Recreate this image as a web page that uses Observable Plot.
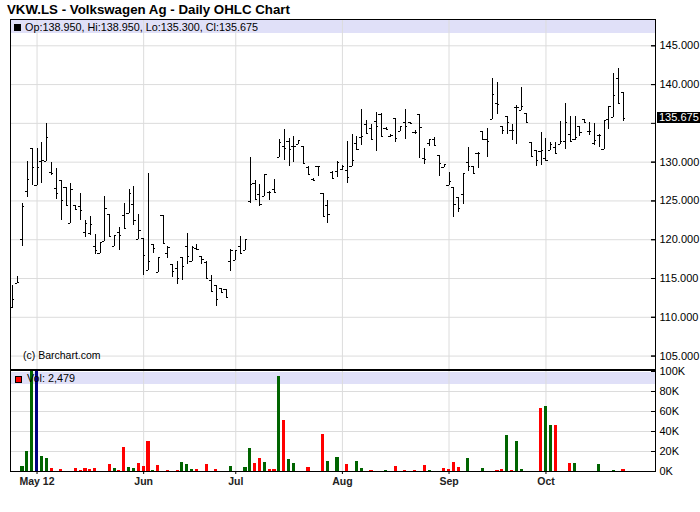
<!DOCTYPE html>
<html><head><meta charset="utf-8">
<script src="https://cdn.jsdelivr.net/npm/d3@7"></script>
<script src="https://cdn.jsdelivr.net/npm/@observablehq/plot@0.6"></script>
<style>
html,body{margin:0;padding:0;background:#fff;overflow:hidden;}
#wrap{position:relative;width:700px;height:512px;overflow:hidden;font-family:"Liberation Sans",Arial,sans-serif;background:#fff;}
#wrap svg{position:absolute;left:0;overflow:visible;}
.abs{position:absolute;white-space:nowrap;}
.band{position:absolute;background:#e0e0f8;}
.line{position:absolute;background:#000;}
</style></head><body>
<div id="wrap"></div>
<script>
// ---- data (bar index = trading day) ----
const opens = [111.3,114.38,120.0,126.25,131.7,127.0,130.1,130.07,128.65,126.6,
127.66,126.72,122.08,124.44,124.23,120.9,120.86,119.15,118.2,119.71,
123.28,119.07,120.9,123.15,123.4,124.57,120.0,120.14,115.97,119.4,
115.76,123.15,118.2,116.83,116.27,117.69,119.15,117.22,118.85,117.87,
117.0,114.77,114.13,113.7,113.57,117.22,117.27,119.15,118.55,124.96,
127.23,125.81,125.51,126.1,126.45,130.54,131.96,132.69,131.96,132.3,
132.05,129.3,127.8,129.4,125.94,124.35,128.7,128.8,129.04,128.95,
129.38,132.39,133.24,134.88,134.3,135.18,136.1,134.36,133.3,135.61,
133.98,135.13,135.05,133.8,136.17,130.5,132.39,132.95,130.89,129.3,
127.0,126.72,125.43,125.86,129.94,129.47,131.1,133.98,132.9,135.48,
137.55,134.54,135.83,134.1,137.1,136.6,136.26,132.52,131.44,131.36,
130.46,131.53,131.87,132.26,132.69,133.6,132.9,134.54,135.48,134.0,
132.39,133.46,131.62,135.48,135.74,140.77,138.95];
const highs = [114.13,115.2,124.65,130.1,131.75,131.75,132.5,134.97,129.94,129.17,
127.66,126.72,127.23,124.44,125.94,122.5,123.02,120.7,119.7,125.51,
123.28,120.57,121.52,124.65,126.5,126.8,123.28,120.14,128.52,119.4,
117.69,123.15,119.07,116.83,117.13,117.69,120.79,119.07,119.37,117.87,
117.13,115.33,114.13,113.7,113.57,118.72,118.64,120.44,120.05,130.63,
127.66,127.15,128.44,126.25,127.8,132.9,134.24,133.03,133.33,132.82,
132.05,129.38,127.88,129.42,125.94,125.0,128.74,130.11,129.6,132.69,
133.59,133.33,136.78,135.31,134.88,136.39,136.26,134.45,133.59,135.61,
134.62,136.78,135.1,134.07,136.17,131.74,132.95,133.16,130.89,129.68,
128.61,126.72,125.43,128.52,131.88,129.47,131.19,133.98,134.32,140.77,
140.25,134.54,135.83,134.88,137.33,139.61,136.26,132.52,131.44,133.85,
133.03,132.56,132.48,135.27,137.55,135.91,135.91,134.54,135.48,135.09,
134.97,133.59,135.31,137.2,141.41,142.06,138.95];
const lows = [111.12,114.35,119.07,125.5,126.95,126.95,127.2,130.07,128.22,125.17,
122.42,124.35,122.08,123.8,122.42,120.23,120.57,118.08,118.2,119.71,
120.36,119.07,118.64,121.43,123.37,121.78,120.0,115.41,115.97,118.21,
115.76,119.5,117.52,115.12,114.21,114.77,116.83,117.22,118.72,116.83,
114.98,113.35,111.33,113.05,112.54,115.85,117.27,118.08,118.55,124.65,
125.17,124.23,125.51,125.0,126.03,130.54,130.24,129.38,129.9,132.3,
129.81,128.39,127.58,128.1,122.94,122.08,127.88,128.01,128.95,127.23,
129.38,131.62,132.18,133.68,132.9,131.31,133.24,134.1,133.24,132.48,
133.98,132.95,134.95,133.59,130.41,129.72,132.05,132.09,128.09,129.3,
126.93,122.81,123.45,124.57,128.74,128.52,129.17,132.9,130.58,135.48,
136.13,133.59,133.59,132.82,132.26,136.6,135.05,130.76,129.38,129.6,
130.15,131.53,131.1,132.26,131.62,132.56,132.73,133.33,135.09,133.46,
132.18,131.88,131.62,134.19,135.74,137.55,135.3];
const closes = [112.32,114.5,124.3,127.8,129.3,129.3,130.15,133.16,128.5,125.94,
125.08,124.35,126.5,123.85,123.8,122.08,121.98,118.55,119.6,124.0,
120.36,120.5,120.57,121.43,125.94,122.5,121.13,118.0,117.22,118.85,
117.69,119.5,119.0,115.93,114.98,116.58,117.78,119.0,118.76,117.48,
114.98,113.35,112.32,113.18,112.54,118.64,118.55,118.2,120.05,127.1,
125.17,124.57,128.44,126.1,126.03,132.52,131.74,131.66,132.05,132.82,
129.81,128.39,127.62,129.4,122.94,123.24,127.88,130.0,129.47,128.0,
130.24,131.62,133.33,133.68,132.95,134.54,133.33,134.19,133.46,132.99,
134.62,134.54,135.0,133.8,134.45,130.33,132.95,132.09,129.81,129.68,
127.53,124.53,124.0,128.52,129.47,128.52,131.1,132.9,132.6,138.71,
137.46,134.1,135.05,134.1,137.1,137.2,135.05,130.76,130.24,131.44,
130.24,132.3,131.1,132.69,135.05,132.6,133.16,133.8,135.09,133.98,
132.82,133.5,135.31,137.2,138.62,137.55,135.675];
// volume in thousands (bars above 100K are clipped in the chart)
const volumes = [0,0,5,20,120,120,15,13,3,0,
2,0,0,3,1,3,2,3,0,0,
7,3,1,24,4,3,8,5,30,1,
6,0,1,0,1,9,7,2,2,0,
7,0,2,0,0,5,0,0,4,23,
8,13,9,2,2,95,51,12,8,0,
0,4,0,0,37,10,0,14,0,7,
0,10,3,0,1,0,0,1,0,5,
0,1,0,1,0,6,1,0,0,3,
2,9,4,0,13,0,0,3,0,0,
1,2,36,1,30,2,0,0,0,63,
65,46,46,0,0,8,8,0,0,0,
0,7,0,0,1,0,2.479];
// u = up, d = down, n = unchanged
const volDir = ("--uuunuud-" + "d--ddddd--" + "dudduudddu" + "d-d-duuud-" + "d-d--u--uu" +
  "ddudduduu-" + "-d--du-u-d" + "-uu-d--u-d" + "-d-d-du--d" + "ddd-u--u--" +
  "dduduu---d" + "uud--du---" + "-u--u-d").split("");
const monthTickIdx = [5, 27, 46, 68, 90, 110];
const monthLabels = ["May 12", "Jun", "Jul", "Aug", "Sep", "Oct"];
const priceTicks = [105, 110, 115, 120, 125, 130, 135, 140, 145];
const volTicks = [0, 20, 40, 60, 80, 100];
const titleText = "VKW.LS - Volkswagen Ag - Daily OHLC Chart";
const copyText = "(c) Barchart.com";

// ---- build ----
const FONT = '"Liberation Sans", Arial, sans-serif';
const GRID = "#dcdcdc";
const xDomain = [-0.475, 132.6];
const yDomain = [103.14, 148.39];
const PRICE_H = 351;
const bars = d3.range(opens.length).map(i => ({i, o: opens[i], h: highs[i], l: lows[i], c: closes[i]}));
const vols = d3.range(volumes.length).map(i => ({i, v: volumes[i], dir: volDir[i]})).filter(d => d.v > 0);
const last = bars[bars.length - 1];
const wrap = document.getElementById("wrap");

// tick labels hidden behind the last-price box
const yPix = d3.scaleLinear(yDomain, [PRICE_H, 0]);
const priceLabelTicks = priceTicks.filter(t => Math.abs(yPix(t) - yPix(last.c)) > 8);

function addDiv(cls, css, html) {
  const d = document.createElement("div");
  d.className = cls;
  d.style.cssText = css;
  if (html != null) d.innerHTML = html;
  wrap.appendChild(d);
  return d;
}

// header bands (behind)
addDiv("band", "left:11px;top:20px;width:644px;height:13px;");
addDiv("band", "left:11px;top:372px;width:644px;height:12px;");

const priceChart = Plot.plot({
  width: 700, height: PRICE_H,
  marginTop: 0, marginBottom: 0, marginLeft: 10, marginRight: 45,
  x: {domain: xDomain, axis: null},
  y: {domain: yDomain, axis: null},
  style: {background: "transparent", fontFamily: FONT, fontSize: "11px", color: "#000"},
  marks: [
    Plot.ruleY(priceTicks, {stroke: GRID}),
    Plot.ruleX(monthTickIdx, {stroke: GRID}),
    Plot.ruleX(bars, {x: "i", y1: "l", y2: "h", stroke: "#000", shapeRendering: "crispEdges"}),
    Plot.ruleY(bars, {x1: d => d.i - 0.45, x2: "i", y: "o", stroke: "#000", shapeRendering: "crispEdges"}),
    Plot.ruleY(bars, {x1: "i", x2: d => d.i + 0.45, y: "c", stroke: "#000", shapeRendering: "crispEdges"}),
    Plot.axisY(priceTicks, {anchor: "right", tickSize: -5, text: null, label: null}),
    Plot.axisY(priceLabelTicks, {anchor: "right", tickSize: -5, tickPadding: 9, tickFormat: d => d.toFixed(3), fontSize: 11, label: null})
  ]
});
priceChart.style.top = "19px";
wrap.appendChild(priceChart);

const volChart = Plot.plot({
  width: 700, height: 125,
  marginTop: 0, marginBottom: 25, marginLeft: 10, marginRight: 45,
  x: {domain: xDomain, axis: null},
  y: {domain: [0, 100], axis: null},
  color: {domain: ["u", "d", "n"], range: ["#006400", "#ff0000", "#000080"]},
  style: {background: "transparent", fontFamily: FONT, fontSize: "11px", color: "#000"},
  marks: [
    Plot.ruleY(volTicks.slice(1, -1), {stroke: GRID}),
    Plot.ruleX(monthTickIdx, {stroke: GRID}),
    Plot.rect(vols, {x1: d => d.i - 0.32, x2: d => d.i + 0.32, y1: 0, y2: "v", fill: "dir", clip: true, shapeRendering: "crispEdges"}),
    Plot.axisY(volTicks, {anchor: "right", tickSize: -5, tickPadding: 9, tickFormat: d => d + "K", fontSize: 11, label: null}),
    Plot.axisX(monthTickIdx, {anchor: "bottom", tickSize: 3, tickPadding: 3, fontSize: 10.5, fontWeight: "bold", fill: "#222", label: null,
      tickFormat: d => monthLabels[monthTickIdx.indexOf(d)]})
  ]
});
volChart.style.top = "371px";
wrap.appendChild(volChart);

// frame lines
addDiv("line", "left:10px;top:19px;width:646px;height:1px;");
addDiv("line", "left:10px;top:19px;width:1px;height:453px;");
addDiv("line", "left:655px;top:19px;width:1px;height:453px;");
addDiv("line", "left:10px;top:369px;width:646px;height:2px;");
addDiv("line", "left:10px;top:471px;width:646px;height:1px;");

// texts
const f3 = d3.format(".3f");
addDiv("abs", "left:7px;top:3px;font-size:13.3px;line-height:14px;font-weight:bold;color:#000;", titleText);
addDiv("abs", "left:14px;top:24px;width:7px;height:7px;background:#000;");
addDiv("abs", "left:25px;top:22px;font-size:10.8px;line-height:11px;color:#000;",
  `Op:${f3(last.o)}, Hi:${f3(last.h)}, Lo:${f3(last.l)}, Cl:${f3(last.c)}`);
addDiv("abs", "left:15px;top:376px;width:5px;height:5px;background:#ff0000;border:1px solid #000;");
addDiv("abs", "left:27px;top:373px;font-size:10.8px;line-height:11px;color:#000;",
  `Vol: ${d3.format(",")(Math.round(volumes[volumes.length - 1] * 1000))}`);
addDiv("abs", "left:23px;top:350px;font-size:10.5px;line-height:11px;color:#000;", copyText);
const yLast = 19 + priceChart.scale("y").apply(last.c);
addDiv("abs", `left:657px;top:${Math.round(yLast - 5.5)}px;width:43px;height:11px;background:#000;color:#fff;font-size:11px;line-height:11px;text-align:left;padding-left:2px;box-sizing:border-box;`, f3(last.c));
</script>
</body></html>
